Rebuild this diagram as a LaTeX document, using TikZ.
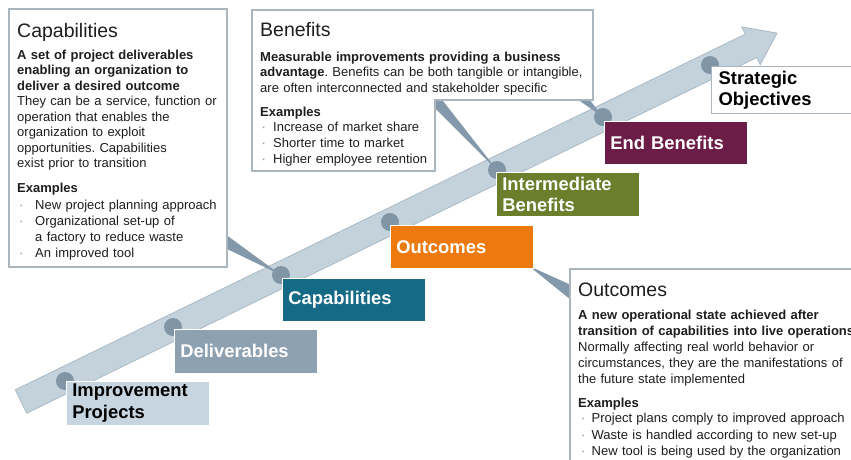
\documentclass[tikz,border=0pt]{standalone}
\usepackage{fontspec}
\setmainfont{Liberation Sans}
\definecolor{bandc}{HTML}{C4D2DC}
\definecolor{bandb}{HTML}{A9B9C5}
\definecolor{dotcol}{HTML}{8096A7}
\definecolor{wedgec}{HTML}{8398AA}
\definecolor{calb}{HTML}{AAB5BE}
\definecolor{txt}{HTML}{1E1E1E}
\definecolor{bulcol}{HTML}{8C8C8C}
\definecolor{ipc}{HTML}{C6D5DF}
\definecolor{delc}{HTML}{8EA1B1}
\definecolor{capc}{HTML}{156A86}
\definecolor{outc}{HTML}{EC7A0E}
\definecolor{ibc}{HTML}{6A7E2C}
\definecolor{ebc}{HTML}{6C1D47}
\newcommand{\bulitem}[2]{\makebox[#1][l]{\hspace*{#2}\textcolor{bulcol}{\textperiodcentered}}}
\begin{document}
\frenchspacing
\begin{tikzpicture}[x=1pt,y=-1pt,
  callout/.style={draw=calb, line width=1.2pt, fill=white},
  body/.style={anchor=base west, inner sep=0pt, text width=520pt, align=left, font=\fontsize{13}{15.5}\selectfont, text=txt},
  head/.style={anchor=base west, inner sep=0pt, font=\fontsize{19.5}{22}\selectfont, text=txt},
  cbox/.style={anchor=north west, inner xsep=6pt, inner ysep=0pt, minimum height=44pt, text width=131pt, align=left, font=\bfseries\fontsize{18.4}{21.5}\selectfont, draw=white, line width=0.6pt},
  dotnode/.style={circle, fill=dotcol, minimum size=18pt, inner sep=0pt},
  wedge/.style={fill=wedgec}
]
\useasboundingbox (0,0) rectangle (851,459);
\fill[white] (0,0) rectangle (851,459);

% arrow band
\coordinate (b1) at (15.3,389.8);
\coordinate (b2) at (745.3,34.1);
\coordinate (b3) at (741.8,26.9);
\coordinate (tip) at (777,33.1);
\coordinate (b5) at (760.2,64.7);
\coordinate (b6) at (756.7,57.5);
\coordinate (b7) at (26.7,413.2);
\draw[fill=bandc, draw=bandb, line width=0.8pt] (b1) -- (b2) -- (b3) -- (tip) -- (b5) -- (b6) -- (b7) -- cycle;

% dots
\node[dotnode] (dip) at (65,381) {};
\node[dotnode] (ddel) at (173,327) {};
\node[dotnode] (dcap) at (281,275) {};
\node[dotnode] (dout) at (390,222) {};
\node[dotnode] (dib) at (497,170) {};
\node[dotnode] (deb) at (603,117) {};
\node[dotnode] (dso) at (710,65) {};

% callout pointers
\coordinate (w1a) at (225,234);
\coordinate (w1b) at (225,248);
\fill[wedge] (w1a) -- (dcap.center) -- (w1b) -- cycle;
\coordinate (w2a) at (436,101);
\coordinate (w2b) at (443,101);
\coordinate (w2c) at (436,109);
\fill[wedge] (w2a) -- (w2b) -- (dib.center) -- (w2c) -- cycle;
\coordinate (w3a) at (577,99);
\coordinate (w3b) at (589,99);
\fill[wedge] (w3a) -- (w3b) -- (deb.center) -- cycle;
\coordinate (w4a) at (529,266);
\coordinate (w4b) at (571,285);
\coordinate (w4c) at (571,300);
\fill[wedge] (w4a) -- (w4b) -- (w4c) -- cycle;

% callout boxes
\draw[callout] (9,9) rectangle (227,267);
\draw[callout] (252,10) -- (593,10) -- (593,100) -- (435,100) -- (435,171) -- (252,171) -- cycle;
\draw[callout] (570,269) -- (870,269) -- (870,480) -- (570,480) -- cycle;

% Capabilities callout text
\node[head] (capH) at (17,37) {Capabilities};
\node[body] (capB) at (17,59) {\textbf{A set of project deliverables}\\
\textbf{enabling an organization to}\\
\textbf{deliver a desired outcome}\\
They can be a service, function or\\
operation that enables the\\
organization to exploit\\
opportunities. Capabilities\\
exist prior to transition};
\node[body] (capE) at (17,192) {\textbf{Examples}};
\node[body, font=\fontsize{13}{16}\selectfont] (capL) at (17,209) {\bulitem{18pt}{2pt}New project planning approach\\
\bulitem{18pt}{2pt}Organizational set-up of\\
\hspace*{18pt}a factory to reduce waste\\
\bulitem{18pt}{2pt}An improved tool};

% Benefits callout text
\node[head] (benH) at (260,36) {Benefits};
\node[body] (benB) at (260,61) {\textbf{Measurable improvements providing a business}\\
\textbf{advantage}. Benefits can be both tangible or intangible,\\
are often interconnected and stakeholder specific};
\node[body] (benE) at (260,116) {\textbf{Examples}};
\node[body, font=\fontsize{13}{16}\selectfont] (benL) at (260,131) {\bulitem{13pt}{1.5pt}Increase of market share\\
\bulitem{13pt}{1.5pt}Shorter time to market\\
\bulitem{13pt}{1.5pt}Higher employee retention};

% Outcomes callout text
\node[head] (outH) at (578,296) {Outcomes};
\node[body, font=\fontsize{13}{16.2}\selectfont] (outB) at (578,319) {\textbf{A new operational state achieved after}\\
\textbf{transition of capabilities into live operations}\\
Normally affecting real world behavior or\\
circumstances, they are the manifestations of\\
the future state implemented};
\node[body] (outE) at (578,407) {\textbf{Examples}};
\node[body, font=\fontsize{13}{16.5}\selectfont] (outL) at (578,422.5) {\bulitem{13.5pt}{3pt}Project plans comply to improved approach\\
\bulitem{13.5pt}{3pt}Waste is handled according to new set-up\\
\bulitem{13.5pt}{3pt}New tool is being used by the organization};

% stage boxes
\node[cbox, fill=ipc, text=black, minimum width=143pt] (ip) at (66,381) {Improvement\\Projects};
\node[cbox, fill=delc, text=white, minimum width=142pt] (del) at (174,329) {Deliverables};
\node[cbox, fill=capc, text=white, minimum width=143pt, minimum height=43pt] (cap) at (282,278) {Capabilities};
\node[cbox, fill=outc, text=white, minimum width=142pt, minimum height=43pt] (out) at (390,225) {Outcomes};
\node[cbox, fill=ibc, text=white, minimum width=142pt] (ib) at (496,172) {Intermediate\\Benefits};
\node[cbox, fill=ebc, text=white, minimum width=143pt, minimum height=43pt] (eb) at (604,121) {End Benefits};
\node[cbox, fill=white, draw=calb, line width=1.2pt, text=black, minimum width=140pt, minimum height=47pt, text width=128pt, inner xsep=7pt] (so) at (711,66) {Strategic\\Objectives};
\end{tikzpicture}
\end{document}
